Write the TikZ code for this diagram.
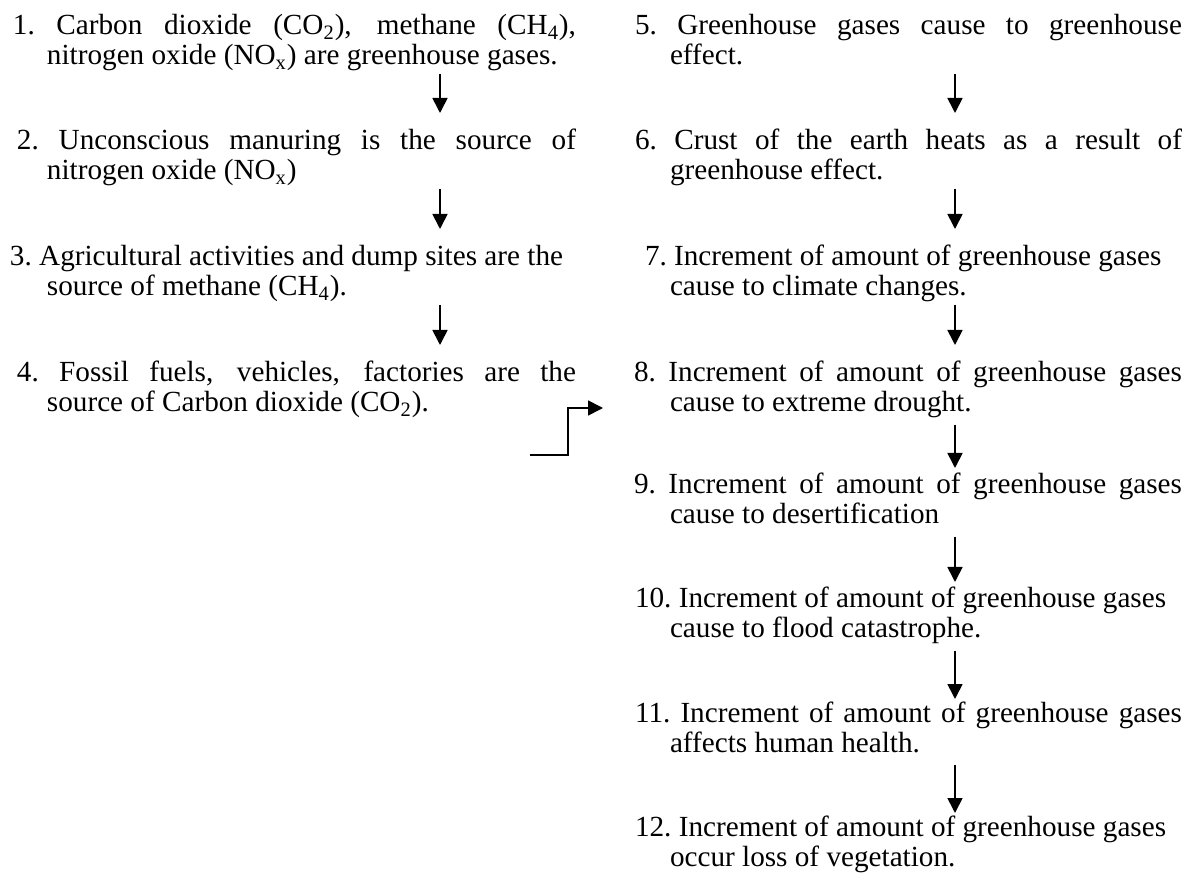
\documentclass[tikz,border=0pt]{standalone}
\usepackage{fontspec}
\setmainfont{Liberation Serif}
\usetikzlibrary{arrows.meta}
\newcommand\itmtext[4]{\parbox[t]{#1}{\hangindent=#2\relax\hangafter=1\relax\noindent\hspace*{#3}\strut#4\strut}}
\begin{document}
\begin{tikzpicture}[x=0.5pt,y=-0.5pt,
  item/.style={anchor=north west, inner sep=0pt, outer sep=0pt,
    font=\fontsize{14.6}{15}\selectfont},
  arr/.style={line width=0.85pt, -{Triangle[length=7.5pt,width=7.5pt]}}]
\useasboundingbox (0,0) rectangle (1185,882);
% left column (baseline - 21 = node top)
\node[item] (n1) at (10,14) {\itmtext{283pt}{18.5pt}{1.5pt}{1.\ Carbon dioxide (CO\textsubscript{2}), methane (CH\textsubscript{4}),\linebreak nitrogen oxide (NO\textsubscript{x}) are greenhouse gases.}};
\node[item] (n2) at (10,129) {\itmtext{283pt}{18.5pt}{3.5pt}{2.\ Unconscious manuring is the source of\linebreak nitrogen oxide (NO\textsubscript{x})}};
\node[item] (n3) at (10,245) {\itmtext{283pt}{18.5pt}{0pt}{3.\ Agricultural activities and dump sites are the\\ source of methane (CH\textsubscript{4}).}};
\node[item] (n4) at (10,361) {\itmtext{283pt}{18.5pt}{3.5pt}{4.\ Fossil fuels, vehicles, factories are the\linebreak source of Carbon dioxide (CO\textsubscript{2}).}};
% right column
\node[item] (n5) at (632,14) {\itmtext{275pt}{19pt}{1.5pt}{5.\ Greenhouse gases cause to greenhouse\linebreak effect.}};
\node[item] (n6) at (632,129) {\itmtext{275pt}{19pt}{1.5pt}{6.\ Crust of the earth heats as a result of\linebreak greenhouse effect.}};
\node[item] (n7) at (632,245) {\itmtext{275pt}{19pt}{6.5pt}{7.\ Increment of amount of greenhouse gases\\ cause to climate changes.}};
\node[item] (n8) at (632,361) {\itmtext{275pt}{19pt}{1pt}{8.\ Increment of amount of greenhouse gases\linebreak cause to extreme drought.}};
\node[item] (n9) at (632,473) {\itmtext{275pt}{19pt}{1pt}{9.\ Increment of amount of greenhouse gases\linebreak cause to desertification}};
\node[item] (n10) at (632,587) {\itmtext{275pt}{19pt}{1.5pt}{10.\ Increment of amount of greenhouse gases\\ cause to flood catastrophe.}};
\node[item] (n11) at (632,701) {\itmtext{275pt}{19pt}{1.5pt}{11.\ Increment of amount of greenhouse gases\linebreak affects human health.}};
\node[item] (n12) at (632,815) {\itmtext{275pt}{19pt}{1.5pt}{12.\ Increment of amount of greenhouse gases\\ occur loss of vegetation.}};
% arrow axes
\coordinate (axL) at (440,0);
\coordinate (axR) at (955,0);
\draw[arr, shorten >=8pt] (n1.south -| axL) -- (n2.north -| axL);
\draw[arr, shorten >=8pt] (n2.south -| axL) -- (n3.north -| axL);
\draw[arr, shorten >=8pt] (n3.south -| axL) -- (n4.north -| axL);
\draw[arr, shorten >=8pt] (n5.south -| axR) -- (n6.north -| axR);
\draw[arr, shorten >=8pt] (n6.south -| axR) -- (n7.north -| axR);
\draw[arr, shorten >=8pt] (n7.south -| axR) -- (n8.north -| axR);
\draw[arr, shorten <=2pt, shorten >=2.5pt] (n8.south -| axR) -- (n9.north -| axR);
\draw[arr, shorten <=2pt, shorten >=2.5pt] (n9.south -| axR) -- (n10.north -| axR);
\draw[arr, shorten <=2pt, shorten >=1pt] (n10.south -| axR) -- (n11.north -| axR);
\draw[arr, shorten <=2pt, shorten >=1pt] (n11.south -| axR) -- (n12.north -| axR);
% elbow connector
\coordinate (es) at (530,455);
\coordinate (ec) at (568,455);
\coordinate (et) at (603,408);
\draw[arr] (es) -- (ec) |- (et);
\end{tikzpicture}
\end{document}
